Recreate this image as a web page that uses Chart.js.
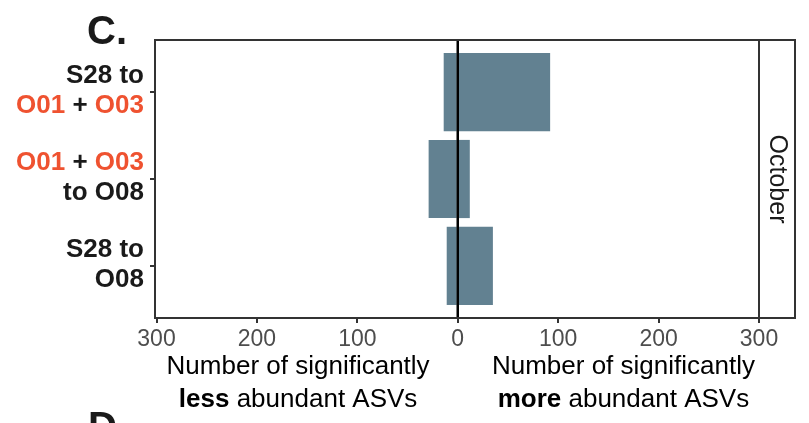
<!DOCTYPE html>
<html>
<head>
<meta charset="utf-8">
<script src="https://cdn.jsdelivr.net/npm/chart.js@4/dist/chart.umd.min.js"></script>
<style>
  html, body { margin: 0; padding: 0; background: #ffffff; }
  #wrap { width: 809px; height: 423px; position: relative; }
</style>
</head>
<body>
<div id="wrap"><canvas id="chart" width="809" height="423"></canvas></div>
<script>
// Comparisons between sampling sites (top to bottom)
const categories = ['S28 to O01 + O03', 'O01 + O03 to O08', 'S28 to O08'];
// How each comparison label is broken over two lines
const categoryLines = [
  ['S28 to', 'O01 + O03'],
  ['O01 + O03', 'to O08'],
  ['S28 to', 'O08']
];
// Site codes shown in the accent colour
const highlightedSites = ['O01', 'O03'];

// Number of significantly less / more abundant ASVs per comparison
const lessAbundant = [14, 29, 11];
const moreAbundant = [92, 12, 35];

// Value axis ticks (shown as absolute counts on both sides)
const xTicks = [-300, -200, -100, 0, 100, 200, 300];

const panelLabel = 'C.';
const nextPanelLabel = 'D.';
const facetLabel = 'October';

const BAR = '#628191';
const ACCENT = '#EF5230';
const INK = '#1a1a1a';
const FONT = '"Liberation Sans", Arial, Helvetica, sans-serif';

// category positions 1..n on a linear index axis, so the panel keeps
// the usual 0.6-unit padding around the outer bars
const idx = categories.map((_, i) => i + 1);

const lessData = idx.map((y, i) => ({ x: -lessAbundant[i], y }));
const moreData = idx.map((y, i) => ({ x: moreAbundant[i], y }));

const decorations = {
  id: 'decorations',
  afterDatasetsDraw(chart) {
    const { ctx, chartArea: a, scales } = chart;
    const x0 = scales.x.getPixelForValue(0);
    ctx.save();
    // zero line
    ctx.strokeStyle = '#000';
    ctx.lineWidth = 2.5;
    ctx.beginPath();
    ctx.moveTo(x0, a.top);
    ctx.lineTo(x0, a.bottom);
    ctx.stroke();
    // panel frame
    ctx.strokeStyle = '#333333';
    ctx.lineWidth = 2;
    ctx.strokeRect(a.left, a.top, a.right - a.left, a.bottom - a.top);
    // facet strip
    const sw = 36;
    ctx.fillStyle = '#ffffff';
    ctx.fillRect(a.right, a.top, sw, a.bottom - a.top);
    ctx.strokeRect(a.right, a.top, sw, a.bottom - a.top);
    ctx.translate(a.right + sw / 2, (a.top + a.bottom) / 2);
    ctx.rotate(Math.PI / 2);
    ctx.fillStyle = INK;
    ctx.font = '25px ' + FONT;
    ctx.textAlign = 'center';
    ctx.textBaseline = 'middle';
    ctx.fillText(facetLabel, 0, 0);
    ctx.restore();
  },
  afterDraw(chart) {
    const { ctx, chartArea: a, scales } = chart;
    ctx.save();
    // category labels, right aligned, site codes highlighted
    ctx.font = 'bold 26px ' + FONT;
    ctx.textBaseline = 'alphabetic';
    ctx.textAlign = 'left';
    const right = a.left - 11;
    idx.forEach((v, i) => {
      const yc = scales.y.getPixelForValue(v);
      const lines = categoryLines[i];
      lines.forEach((line, li) => {
        const base = yc + (li === 0 ? -9 : 21);
        const parts = line.split(/(\s+)/);
        const total = ctx.measureText(line).width;
        let x = right - total;
        parts.forEach(p => {
          ctx.fillStyle = highlightedSites.includes(p) ? ACCENT : INK;
          ctx.fillText(p, x, base);
          x += ctx.measureText(p).width;
        });
      });
    });
    // axis titles for both sides
    const titles = [
      { v: -159, bold: 'less', rest: ' abundant ASVs' },
      { v: 165, bold: 'more', rest: ' abundant ASVs' }
    ];
    titles.forEach(t => {
      const cx = scales.x.getPixelForValue(t.v);
      ctx.fillStyle = '#000';
      ctx.textAlign = 'center';
      ctx.font = '26px ' + FONT;
      ctx.fillText('Number of significantly', cx, 374);
      ctx.font = 'bold 26px ' + FONT;
      const wb = ctx.measureText(t.bold).width;
      ctx.font = '26px ' + FONT;
      const wr = ctx.measureText(t.rest).width;
      const start = cx - (wb + wr) / 2;
      ctx.textAlign = 'left';
      ctx.font = 'bold 26px ' + FONT;
      ctx.fillText(t.bold, start, 407);
      ctx.font = '26px ' + FONT;
      ctx.fillText(t.rest, start + wb, 407);
    });
    // panel letters
    ctx.fillStyle = INK;
    ctx.textAlign = 'left';
    ctx.font = 'bold 40px ' + FONT;
    ctx.fillText(panelLabel, 87, 44);
    ctx.fillText(nextPanelLabel, 88, 440);
    ctx.restore();
  }
};

new Chart(document.getElementById('chart'), {
  type: 'bar',
  data: {
    datasets: [
      { label: 'less', data: lessData, backgroundColor: BAR, borderWidth: 0 },
      { label: 'more', data: moreData, backgroundColor: BAR, borderWidth: 0 }
    ]
  },
  options: {
    indexAxis: 'y',
    responsive: false,
    animation: false,
    events: [],
    barPercentage: 0.9,
    categoryPercentage: 1,
    layout: { padding: { top: 40, right: 50, bottom: 0, left: 0 } },
    plugins: { legend: { display: false }, tooltip: { enabled: false } },
    scales: {
      x: {
        type: 'linear',
        stacked: true,
        offset: false,
        min: -301.5,
        max: 300,
        afterBuildTicks: s => { s.ticks = xTicks.map(v => ({ value: v })); },
        afterFit: s => { s.height = 105; },
        border: { display: false },
        grid: { offset: false, drawOnChartArea: false, drawTicks: true, tickLength: 5, color: '#333333', lineWidth: 2 },
        ticks: {
          color: '#4d4d4d',
          font: { family: FONT, size: 23 },
          padding: 3,
          maxRotation: 0,
          callback: v => String(Math.abs(v))
        }
      },
      y: {
        type: 'linear',
        stacked: true,
        reverse: true,
        offset: false,
        min: 0.4,
        max: categories.length + 0.6,
        afterBuildTicks: s => { s.ticks = idx.map(v => ({ value: v })); },
        afterFit: s => { s.width = 155; },
        border: { display: false },
        grid: { offset: false, drawOnChartArea: false, drawTicks: true, tickLength: 5, color: '#333333', lineWidth: 2 },
        ticks: { display: false }
      }
    }
  },
  plugins: [decorations]
});
</script>
</body>
</html>
